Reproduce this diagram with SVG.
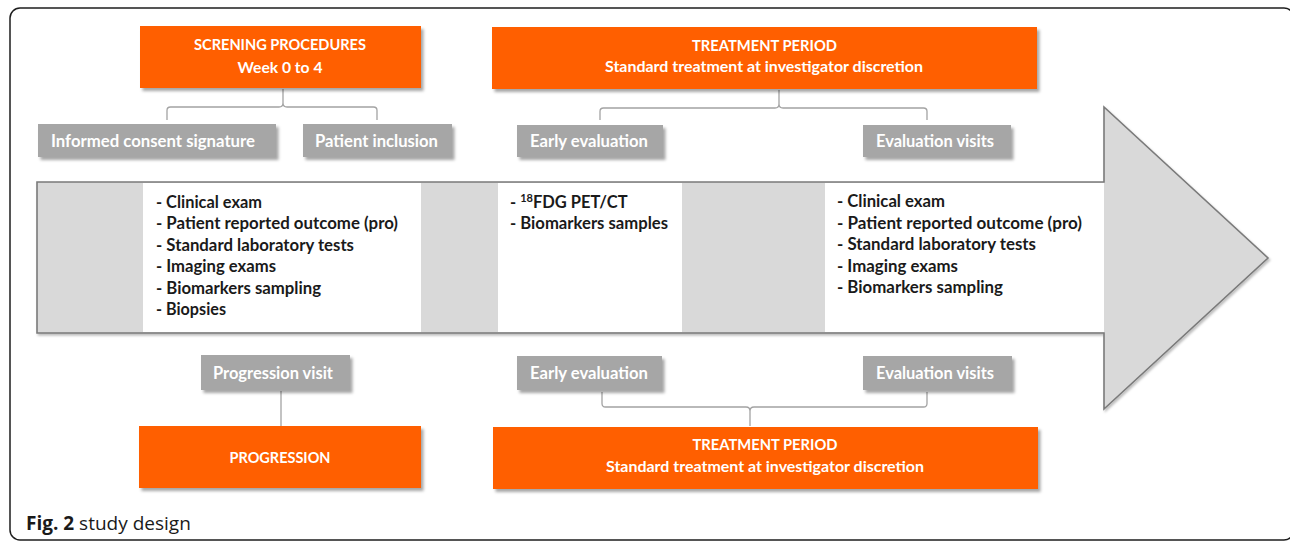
<svg xmlns="http://www.w3.org/2000/svg" width="1290" height="542" viewBox="0 0 1290 542">
<defs>
<filter id="sh" x="-10%" y="-20%" width="130%" height="160%">
<feDropShadow dx="2.5" dy="3" stdDeviation="1.5" flood-color="#000" flood-opacity="0.35"/>
</filter>
<filter id="ash" x="-5%" y="-5%" width="115%" height="115%">
<feDropShadow dx="1.5" dy="2" stdDeviation="1.2" flood-color="#000" flood-opacity="0.25"/>
</filter>
</defs>
<style>
.or{fill:#ff5f00;filter:url(#sh)}
.gr{fill:#a6a6a6;filter:url(#sh)}
.wt{fill:#fff;font-family:Lato,"Liberation Sans",sans-serif;font-weight:bold;text-anchor:middle;dominant-baseline:central}
.ot{font-size:15px}
.gt{font-size:16.5px}
.li{fill:#1a1a1a;font-family:Lato,"Liberation Sans",sans-serif;font-weight:bold;font-size:16.5px}
.br{fill:none;stroke:#a3a3a3;stroke-width:1.3}
.pn{fill:#fff}
</style>
<rect x="10" y="8" width="1284" height="532" rx="10" ry="10" fill="#fff" stroke="#1e1e1e" stroke-width="1.5"/>

<g id="connectors">
<path class="br" d="M167,120 V110.5 Q167,107 170.5,107 H279 Q283,107 283,103 V89 M283,103 Q283,107 287,107 H373.5 Q377,107 377,110.5 V120"/>
<path class="br" d="M600,120 V111.5 Q600,108 603.5,108 H775 Q779,108 779,104 V90 M779,104 Q779,108 783,108 H923.5 Q927,108 927,111.5 V120"/>
<path class="br" d="M602,392 V403.5 Q602,407 605.5,407 H746 Q750,407 750,411 V426 M750,411 Q750,407 754,407 H923.5 Q927,407 927,403.5 V392"/>
<path class="br" d="M281,391 V426"/>
</g>

<g id="timeline-arrow">
<path d="M37,182 H1104 V107 L1268,258 L1104,409 V333 H37 Z" fill="#d9d9d9" stroke="#7a7a7a" stroke-width="1.6" filter="url(#ash)"/>
</g>

<g id="panel-screening">
<rect class="pn" x="143" y="183" width="278" height="149"/>
<text class="li" x="156" y="207.5" textLength="106" lengthAdjust="spacingAndGlyphs">- Clinical exam</text>
<text class="li" x="156" y="229" textLength="242" lengthAdjust="spacingAndGlyphs">- Patient reported outcome (pro)</text>
<text class="li" x="156" y="250.5" textLength="198" lengthAdjust="spacingAndGlyphs">- Standard laboratory tests</text>
<text class="li" x="156" y="272" textLength="120" lengthAdjust="spacingAndGlyphs">- Imaging exams</text>
<text class="li" x="156" y="293.5" textLength="165" lengthAdjust="spacingAndGlyphs">- Biomarkers sampling</text>
<text class="li" x="156" y="315" textLength="70" lengthAdjust="spacingAndGlyphs">- Biopsies</text>
</g>

<g id="panel-early">
<rect class="pn" x="498" y="183" width="184" height="149"/>
<text class="li" x="510" y="207.5">- <tspan font-size="11" dy="-5.5">18</tspan><tspan dy="5.5">FDG PET/CT</tspan></text>
<text class="li" x="510" y="229" textLength="158" lengthAdjust="spacingAndGlyphs">- Biomarkers samples</text>
</g>

<g id="panel-evaluation">
<rect class="pn" x="825" y="183" width="279" height="149"/>
<text class="li" x="837" y="207" textLength="108" lengthAdjust="spacingAndGlyphs">- Clinical exam</text>
<text class="li" x="837" y="228.5" textLength="245" lengthAdjust="spacingAndGlyphs">- Patient reported outcome (pro)</text>
<text class="li" x="837" y="250" textLength="199" lengthAdjust="spacingAndGlyphs">- Standard laboratory tests</text>
<text class="li" x="837" y="271.5" textLength="121" lengthAdjust="spacingAndGlyphs">- Imaging exams</text>
<text class="li" x="837" y="293" textLength="166" lengthAdjust="spacingAndGlyphs">- Biomarkers sampling</text>
</g>

<g id="screening">
<rect class="or" x="140" y="26" width="281" height="62"/>
<text class="wt ot" x="280" y="44" textLength="172" lengthAdjust="spacingAndGlyphs">SCRENING PROCEDURES</text>
<text class="wt ot" x="280" y="67" textLength="85" lengthAdjust="spacingAndGlyphs">Week 0 to 4</text>
</g>

<g id="consent">
<rect class="gr" x="38" y="124" width="238" height="33"/>
<text class="wt gt" x="153" y="141" textLength="204" lengthAdjust="spacingAndGlyphs">Informed consent signature</text>
</g>

<g id="inclusion">
<rect class="gr" x="303" y="124" width="149" height="33"/>
<text class="wt gt" x="376.5" y="141" textLength="123" lengthAdjust="spacingAndGlyphs">Patient inclusion</text>
</g>

<g id="treatment-top">
<rect class="or" x="492" y="27" width="545" height="62"/>
<text class="wt ot" x="764.5" y="44.5" textLength="145" lengthAdjust="spacingAndGlyphs">TREATMENT PERIOD</text>
<text class="wt ot" x="764" y="66" textLength="318" lengthAdjust="spacingAndGlyphs">Standard treatment at investigator discretion</text>
</g>

<g id="early-top">
<rect class="gr" x="517" y="125" width="146" height="32"/>
<text class="wt gt" x="589" y="141" textLength="118" lengthAdjust="spacingAndGlyphs">Early evaluation</text>
</g>

<g id="evalvisits-top">
<rect class="gr" x="863" y="125" width="148" height="32"/>
<text class="wt gt" x="935" y="141" textLength="118" lengthAdjust="spacingAndGlyphs">Evaluation visits</text>
</g>

<g id="progression-visit">
<rect class="gr" x="201" y="355" width="149" height="35"/>
<text class="wt gt" x="273" y="373" textLength="120" lengthAdjust="spacingAndGlyphs">Progression visit</text>
</g>

<g id="progression">
<rect class="or" x="139" y="426" width="282" height="62"/>
<text class="wt ot" x="280" y="457" textLength="101" lengthAdjust="spacingAndGlyphs">PROGRESSION</text>
</g>

<g id="early-bottom">
<rect class="gr" x="517" y="356" width="145" height="34"/>
<text class="wt gt" x="589" y="373" textLength="118" lengthAdjust="spacingAndGlyphs">Early evaluation</text>
</g>

<g id="evalvisits-bottom">
<rect class="gr" x="863" y="356" width="149" height="34"/>
<text class="wt gt" x="935" y="373" textLength="118" lengthAdjust="spacingAndGlyphs">Evaluation visits</text>
</g>

<g id="treatment-bottom">
<rect class="or" x="493" y="427" width="545" height="62"/>
<text class="wt ot" x="765" y="444" textLength="145" lengthAdjust="spacingAndGlyphs">TREATMENT PERIOD</text>
<text class="wt ot" x="765" y="466" textLength="318" lengthAdjust="spacingAndGlyphs">Standard treatment at investigator discretion</text>
</g>

<g id="caption">
<text x="26" y="530" font-family="'Open Sans','Noto Sans',sans-serif" font-size="19" fill="#1a1a1a"><tspan font-weight="bold">Fig. 2</tspan> study design</text>
</g>
</svg>
